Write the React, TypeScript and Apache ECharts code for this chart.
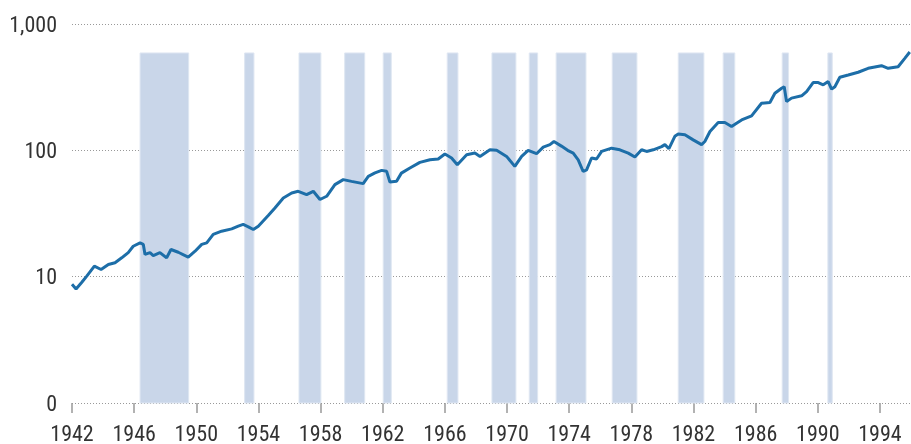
import React, { useEffect, useRef } from "react";
import * as echarts from "echarts";

const BASE_YEAR = 1942;
const END_YEAR = 1996;

const years = [
  1942.0, 1942.26, 1942.62, 1942.95, 1943.44, 1943.87, 1944.34, 1944.77, 1945.2, 1945.62,
  1945.94, 1946.38, 1946.59, 1946.7, 1947.02, 1947.23, 1947.66, 1948.09, 1948.37, 1948.84,
  1949.48, 1949.92, 1950.35, 1950.67, 1951.09, 1951.63, 1952.28, 1952.7, 1953.02, 1953.35,
  1953.67, 1953.99, 1954.63, 1955.06, 1955.6, 1956.14, 1956.56, 1957.1, 1957.53, 1957.96,
  1958.39, 1958.92, 1959.46, 1959.99, 1960.74, 1961.07, 1961.5, 1961.93, 1962.25, 1962.46,
  1962.89, 1963.2, 1963.75, 1964.39, 1965.04, 1965.57, 1966.0, 1966.43, 1966.8, 1967.4,
  1967.93, 1968.26, 1968.9, 1969.33, 1969.97, 1970.5, 1970.94, 1971.36, 1971.9, 1972.33,
  1972.76, 1973.02, 1973.5, 1973.9, 1974.26, 1974.58, 1974.9, 1975.12, 1975.44, 1975.76,
  1976.09, 1976.73, 1977.26, 1977.8, 1978.23, 1978.66, 1978.98, 1979.41, 1979.95, 1980.16,
  1980.42, 1980.8, 1981.02, 1981.45, 1981.98, 1982.52, 1982.73, 1983.06, 1983.59, 1984.02,
  1984.45, 1984.77, 1985.1, 1985.74, 1986.38, 1986.92, 1987.24, 1987.67, 1987.84, 1987.99,
  1988.31, 1988.96, 1989.28, 1989.7, 1990.03, 1990.35, 1990.67, 1990.89, 1991.1, 1991.42,
  1991.96, 1992.6, 1993.24, 1994.1, 1994.53, 1995.17, 1995.6, 1995.92,
];

const indexValues = [
  8.7, 8.0, 9.0, 10.1, 12.1, 11.4, 12.5, 12.9, 14.1, 15.5,
  17.4, 18.5, 18.0, 15.0, 15.5, 14.7, 15.5, 14.1, 16.4, 15.6,
  14.3, 15.9, 18.0, 18.5, 21.6, 22.9, 23.9, 25.1, 25.9, 24.8,
  23.6, 25.1, 30.5, 35.0, 42.0, 46.0, 47.4, 44.6, 47.4, 40.8,
  43.3, 53.5, 58.6, 56.8, 54.5, 62.3, 66.2, 69.4, 68.2, 56.2,
  56.8, 66, 72.5, 80.3, 84.3, 85.4, 93.5, 87, 77, 92.3,
  95.2, 89.5, 101, 100, 89.5, 74.6, 89.5, 100, 94, 106,
  111, 117.5, 108, 100, 95, 84, 68, 70, 87, 85.4,
  98, 104, 101, 95, 88.5, 101, 98, 101, 107, 111,
  103, 129, 134.6, 133, 121, 111, 117.5, 141, 166, 166,
  154.5, 164, 174, 187.5, 236, 239, 283, 310, 319, 243,
  259, 270, 292, 344, 344, 330, 350, 305, 319, 379,
  395, 415, 446, 468, 446, 459, 535, 600,
];

const bandStarts = [
  1946.38, 1953.11, 1956.61, 1959.55, 1962.03, 1966.15, 1969.03,
  1971.43, 1973.16, 1976.77, 1981.02, 1983.91, 1987.71, 1990.65,
];
const bandEnds = [
  1949.51, 1953.71, 1958.02, 1960.84, 1962.55, 1966.84, 1970.57,
  1971.97, 1975.08, 1978.36, 1982.67, 1984.66, 1988.12, 1990.93,
];
const bandBottom = 1;
const bandTop = 590;

const yTicks = [1, 10, 100, 1000];
const yTickLabels = ["0", "10", "100", "1,000"];

const FONT = "'Liberation Sans Narrow', 'Roboto Condensed', 'DejaVu Sans Condensed', 'Noto Sans', sans-serif";

export default function App() {
  const ref = useRef<HTMLDivElement>(null);

  useEffect(() => {
    if (!ref.current) return;
    const chart = echarts.init(ref.current, undefined, { renderer: "svg" });

    const lineData = years.map((y, i) => [y - BASE_YEAR, indexValues[i]]);
    const bands = bandStarts.map((s, i) => [
      { xAxis: s - BASE_YEAR, yAxis: bandBottom },
      { xAxis: bandEnds[i] - BASE_YEAR, yAxis: bandTop },
    ]);

    chart.setOption({
      animation: false,
      grid: { left: 72, right: 0, top: 24, bottom: 40, containLabel: false },
      xAxis: {
        type: "value",
        min: 0,
        max: END_YEAR - BASE_YEAR,
        interval: 4,
        axisLine: { show: false },
        axisTick: { show: true, length: 10, lineStyle: { color: "#999", width: 1.5 } },
        splitLine: { show: false },
        axisLabel: {
          margin: 19,
          fontSize: 22,
          color: "#333",
          fontFamily: FONT,
          formatter: (v: number) => (v + BASE_YEAR >= END_YEAR ? "" : String(v + BASE_YEAR)),
          showMaxLabel: false,
        },
      },
      yAxis: {
        type: "log",
        logBase: 10,
        min: 1,
        max: 1000,
        axisLine: { show: false },
        axisTick: { show: false },
        splitLine: { show: true, lineStyle: { color: "#999", type: [1, 2], width: 1 } },
        axisLabel: {
          margin: 15,
          fontSize: 22,
          color: "#333",
          fontFamily: FONT,
          formatter: (v: number) => {
            const idx = yTicks.findIndex((t) => Math.abs(t - v) < 1e-6 * t);
            return idx >= 0 ? yTickLabels[idx] : "";
          },
        },
      },
      series: [
        {
          type: "line",
          data: [],
          z: 1,
          silent: true,
          markArea: {
            silent: true,
            itemStyle: { color: "#c9d6e9", borderColor: "#dfe7f2", borderWidth: 1 },
            data: bands,
          },
        },
        {
          type: "line",
          z: 3,
          data: lineData,
          showSymbol: false,
          symbol: "none",
          lineStyle: { color: "#1d6ea8", width: 3 },
        },
      ],
    });

    return () => chart.dispose();
  }, []);

  return (
    <div
      ref={ref}
      style={{ position: "fixed", left: 0, top: 0, width: 911, height: 444 }}
    />
  );
}
